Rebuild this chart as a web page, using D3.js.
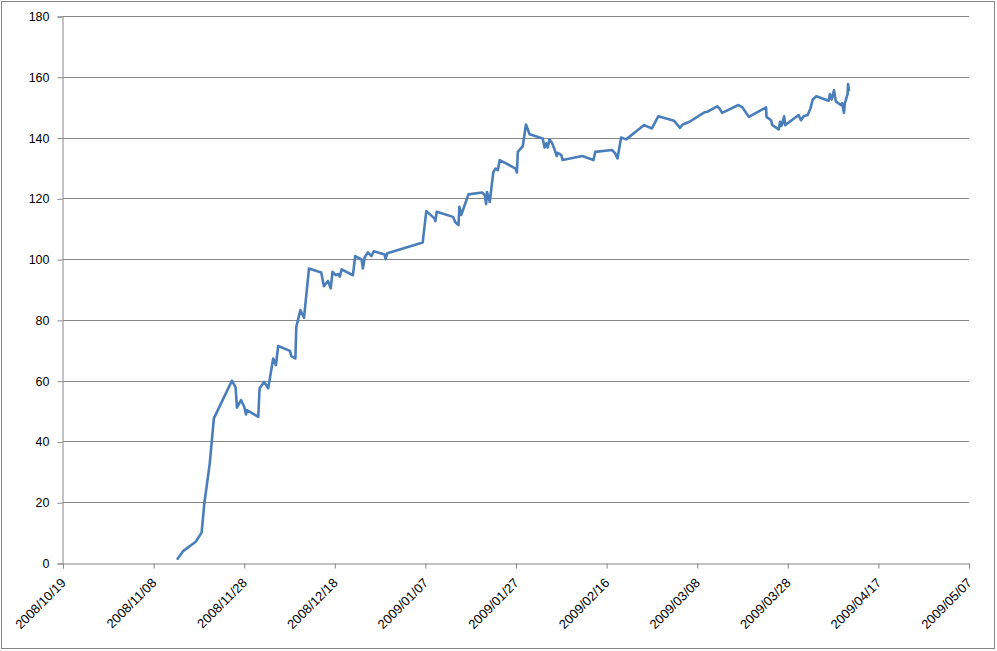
<!DOCTYPE html>
<html>
<head>
<meta charset="utf-8">
<script src="https://cdn.jsdelivr.net/npm/d3@7"></script>
<style>
  body { margin: 0; background: #fff; }
  svg text { font-family: "Liberation Sans", Arial, sans-serif; font-size: 12px; fill: #000; }
</style>
</head>
<body>
<svg id="chart" width="997" height="651"></svg>
<script>
// x: days after 2008/10/19, y: value
var days = [25.3, 26.5, 29.3, 30.6, 31.2, 32.4, 33.3, 37.3, 38.1, 38.4,
  39.3, 40.0, 40.4, 40.6, 43.1, 43.4, 44.4, 45.3, 46.4, 47.0,
  47.5, 50.1, 50.4, 51.3, 51.5, 52.4, 53.2, 54.3, 57.0, 57.6,
  58.5, 59.1, 59.5, 60.2, 60.8, 61.1, 61.5, 64.0, 64.5, 65.9,
  66.2, 66.6, 67.3, 68.1, 68.6, 71.0, 71.2, 71.6, 79.4, 80.2,
  82.0, 82.2, 82.5, 86.1, 86.6, 87.3, 87.5, 87.9, 88.8, 89.5,
  92.5, 93.1, 93.4, 93.6, 94.0, 94.2, 95.0, 95.5, 96.0, 96.4,
  99.4, 99.9, 100.2, 100.4, 101.5, 102.2, 103.0, 105.9, 106.3, 106.7,
  107.0, 107.4, 108.0, 108.5, 109.0, 109.2, 110.0, 110.3, 114.6, 117.1,
  117.5, 121.2, 121.9, 122.4, 123.2, 124.3, 128.3, 130.0, 131.4, 134.9,
  136.2, 136.8, 138.3, 141.6, 142.3, 144.4, 144.9, 145.5, 149.1, 150.0,
  151.4, 155.2, 155.3, 156.3, 156.6, 158.0, 158.3, 158.6, 159.2, 159.4,
  162.4, 162.9, 163.5, 164.4, 165.0, 165.5, 166.3, 169.0, 169.3, 169.7,
  170.2, 170.6, 171.7, 172.0, 172.4, 172.6, 173.2, 173.3, 173.5];
var values = [1.4, 3.9, 7.0, 10.0, 19.6, 32.8, 47.6, 60.0, 57.8, 51.1,
  53.6, 51.4, 48.9, 50.3, 48.1, 57.5, 59.6, 57.5, 67.3, 65.1,
  71.4, 69.8, 68.1, 67.3, 77.7, 83.2, 80.7, 96.9, 95.6, 91.1,
  92.8, 90.4, 95.8, 94.7, 95.1, 94.2, 96.6, 94.7, 101.0, 99.9,
  96.9, 100.6, 102.2, 101.0, 102.6, 101.5, 100.0, 101.9, 105.5, 115.8,
  113.4, 112.5, 115.6, 113.9, 112.1, 111.2, 117.2, 114.5, 118.3, 121.3,
  121.9, 121.1, 118.1, 122.1, 119.9, 118.8, 128.7, 129.8, 129.3, 132.6,
  130.2, 129.8, 128.5, 135.3, 137.2, 144.3, 141.1, 139.7, 136.7, 138.1,
  136.7, 139.4, 138.1, 136.1, 133.9, 135.0, 134.2, 132.6, 133.9, 132.6,
  135.3, 135.9, 134.8, 133.1, 140.0, 139.4, 144.1, 143.0, 147.0, 145.5,
  143.2, 144.3, 145.2, 148.3, 148.5, 150.3, 149.6, 148.1, 150.7, 149.9,
  146.8, 149.9, 146.8, 145.7, 144.1, 142.7, 145.2, 143.8, 147.0, 144.1,
  147.4, 145.7, 147.0, 147.4, 149.6, 152.5, 153.6, 152.1, 154.3, 152.5,
  155.6, 151.9, 150.7, 151.3, 148.1, 151.3, 154.3, 157.6, 155.6];
var xTickLabels = ["2008/10/19", "2008/11/08", "2008/11/28", "2008/12/18", "2009/01/07",
  "2009/01/27", "2009/02/16", "2009/03/08", "2009/03/28", "2009/04/17", "2009/05/07"];
var yTicks = [0, 20, 40, 60, 80, 100, 120, 140, 160, 180];

var parse = d3.timeParse("%Y/%m/%d");
var fmt = d3.timeFormat("%Y/%m/%d");
var start = parse(xTickLabels[0]);
var data = days.map(function(d, i) {
  return { date: new Date(start.getTime() + d * 864e5), value: values[i] };
});

var svg = d3.select("#chart");
var mLeft = 63, mRight = 969, mTop = 16, mBottom = 563;

// 外框
svg.append("rect")
  .attr("x", 1.5).attr("y", 1.5)
  .attr("width", 993).attr("height", 647)
  .attr("fill", "none").attr("stroke", "#868686").attr("stroke-width", 1);

var x = d3.scaleTime()
  .domain([start, parse(xTickLabels[xTickLabels.length - 1])])
  .range([mLeft, mRight]);
var y = d3.scaleLinear().domain([0, 180]).range([mBottom, mTop]);

// 网格线
svg.append("g").selectAll("line")
  .data(yTicks.slice(1))
  .enter().append("line")
  .attr("x1", mLeft).attr("x2", mRight)
  .attr("y1", function(d) { return Math.round(y(d)) + 0.5; })
  .attr("y2", function(d) { return Math.round(y(d)) + 0.5; })
  .attr("stroke", "#868686");

// y 轴
var yAxis = svg.append("g")
  .attr("transform", "translate(" + (mLeft - 0.5) + ",0.5)")
  .call(d3.axisLeft(y).tickValues(yTicks).tickSize(5).tickPadding(8).tickFormat(d3.format("d")));
yAxis.select(".domain").attr("stroke", "#868686");
yAxis.selectAll(".tick line").attr("stroke", "#868686");
yAxis.selectAll("text").style("font-size", "12.5px").style("font-family", "Liberation Sans, Arial, sans-serif");

// x 轴
var xAxis = svg.append("g")
  .attr("transform", "translate(0," + (mBottom + 0.5) + ")")
  .call(d3.axisBottom(x).tickValues(xTickLabels.map(parse)).tickSize(5).tickFormat(fmt));
xAxis.select(".domain").attr("stroke", "#868686");
xAxis.selectAll(".tick line").attr("stroke", "#868686");
xAxis.selectAll("text")
  .attr("text-anchor", "end")
  .attr("x", 0).attr("y", 0)
  .attr("dy", "0.35em")
  .attr("transform", "translate(0,17) rotate(-45)")
  .style("font-size", "13px").style("font-family", "Liberation Sans, Arial, sans-serif");

// 折线
var line = d3.line()
  .x(function(d) { return x(d.date); })
  .y(function(d) { return y(d.value); });
svg.append("path")
  .datum(data)
  .attr("d", line)
  .attr("fill", "none")
  .attr("stroke", "#4a7ebb")
  .attr("stroke-width", 2.6)
  .attr("stroke-linejoin", "round")
  .attr("stroke-linecap", "round");
</script>
</body>
</html>
